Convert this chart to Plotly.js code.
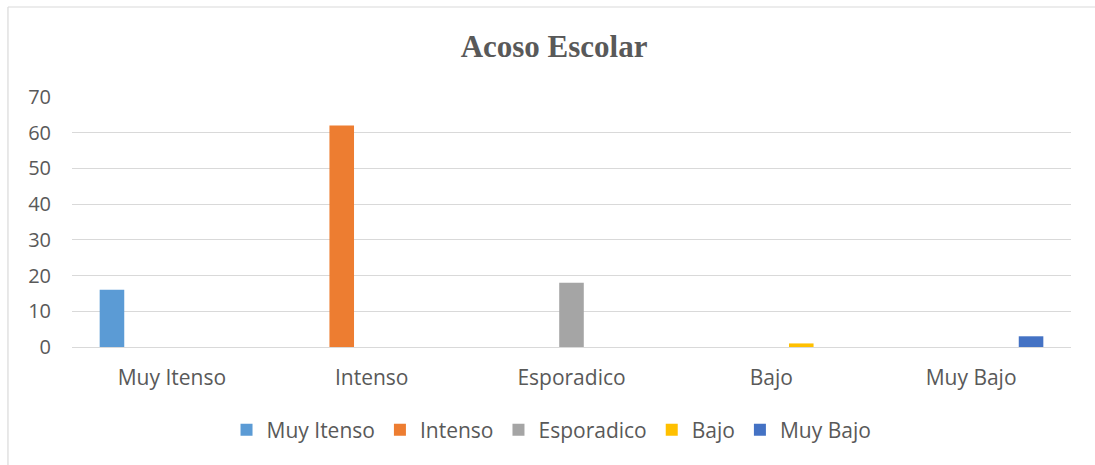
<!DOCTYPE html>
<html>
<head>
<meta charset="utf-8">
<script src="https://cdn.plot.ly/plotly-3.0.1.min.js"></script>
<style>html,body{margin:0;padding:0;background:#fff;}#chart{width:1095px;height:465px;}</style>
</head>
<body>
<div id="chart"></div>
<script>
const categories = ["Muy Itenso", "Intenso", "Esporadico", "Bajo", "Muy Bajo"];
const seriesNames = ["Muy Itenso", "Intenso", "Esporadico", "Bajo", "Muy Bajo"];
const muyItensoValues = [16, null, null, null, null];
const intensoValues = [null, 62, null, null, null];
const esporadicoValues = [null, null, 18, null, null];
const bajoValues = [null, null, null, 1, null];
const muyBajoValues = [null, null, null, null, 3];
const yTicks = [0, 10, 20, 30, 40, 50, 60, 70];

const colors = ["#5B9BD5", "#ED7D31", "#A5A5A5", "#FFC000", "#4472C4"];
const allValues = [muyItensoValues, intensoValues, esporadicoValues, bajoValues, muyBajoValues];

const traces = allValues.map((vals, i) => ({
  type: "bar",
  name: seriesNames[i],
  x: categories,
  y: vals,
  marker: {color: colors[i]},
  hoverinfo: "x+y+name"
}));

const txt = "#595959";
const layout = {
  width: 1095,
  height: 465,
  margin: {l: 72, r: 24, t: 97, b: 118},
  paper_bgcolor: "#fff",
  plot_bgcolor: "#fff",
  barmode: "group",
  bargap: 0.25,
  bargroupgap: 0.18,
  font: {family: "Open Sans, sans-serif", color: txt, size: 20},
  title: {
    text: "<b>Acoso Escolar</b>",
    font: {family: "Liberation Serif, Times New Roman, serif", size: 31, color: txt},
    x: 0.506, xanchor: "center",
    y: 0.9, yanchor: "middle"
  },
  xaxis: {
    type: "category",
    showgrid: false,
    zeroline: false,
    showline: false,
    ticks: "",
    ticklabelstandoff: 16,
    tickfont: {size: 21, color: txt}
  },
  yaxis: {
    range: [0, 70],
    tickvals: yTicks,
    showgrid: true,
    gridcolor: "#D9D9D9",
    gridwidth: 1.3,
    zeroline: true,
    zerolinecolor: "#D9D9D9",
    zerolinewidth: 1.3,
    showline: false,
    ticks: "",
    ticklabelstandoff: 20,
    tickfont: {size: 20, color: txt},
    fixedrange: true
  },
  legend: {
    orientation: "h",
    x: 0.48, xanchor: "center",
    y: -0.25, yanchor: "top",
    font: {size: 21, color: txt},
    itemwidth: 30,
    traceorder: "normal"
  },
  shapes: [
    {type: "line", xref: "paper", yref: "paper", x0: -0.0641, x1: -0.0641, y0: 1.36, y1: -0.6, line: {color: "#D9D9D9", width: 1.2}},
    {type: "line", xref: "paper", yref: "paper", x0: -0.0641, x1: 1.04, y0: 1.36, y1: 1.36, line: {color: "#D9D9D9", width: 1.2}}
  ],
  showlegend: true
};

Plotly.newPlot("chart", traces, layout, {displayModeBar: false, staticPlot: false});
</script>
</body>
</html>
